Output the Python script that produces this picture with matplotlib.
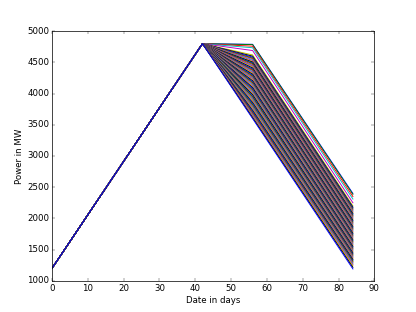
import matplotlib
matplotlib.use("Agg")
from matplotlib import pyplot as plt

plt.style.use("classic")

# days of the schedule
days = [0, 42, 56, 84]
start_power = 1200
peak_power = 4800

# power at day 56 for each scenario
power_56 = [4790, 4785, 4760, 4735, 4690, 4620, 4600, 4585, 4570, 4560,
            4545, 4530, 4515, 4505, 4490, 4480, 4465, 4450, 4440, 4425,
            4410, 4395, 4380, 4370, 4355, 4340, 4325, 4310, 4295, 4280,
            4265, 4250, 4235, 4220, 4205, 4190, 4175, 4160, 4145, 4125,
            4110, 4095, 4080, 4060, 4045, 4030, 4010, 3995, 3980, 3960,
            3945, 3925, 3910, 3890, 3875, 3855, 3840, 3820, 3800, 3785,
            3765, 3750, 3730, 3715, 3695, 3680, 3660, 3645, 3630, 3615, 3600]

# power at day 84 for each scenario
power_84 = [2400, 2385, 2350, 2310, 2250, 2200, 2180, 2165, 2150, 2135,
            2120, 2105, 2090, 2075, 2060, 2045, 2030, 2015, 2000, 1985,
            1970, 1955, 1940, 1925, 1910, 1895, 1880, 1865, 1850, 1835,
            1820, 1805, 1790, 1775, 1760, 1745, 1730, 1715, 1700, 1685,
            1670, 1655, 1640, 1625, 1610, 1595, 1580, 1565, 1550, 1535,
            1520, 1505, 1490, 1475, 1460, 1445, 1430, 1415, 1400, 1385,
            1370, 1355, 1340, 1325, 1310, 1295, 1280, 1260, 1240, 1215, 1190]

plt.figure(figsize=(8, 6), dpi=52)

for p56, p84 in zip(power_56, power_84):
    plt.plot(days, [start_power, peak_power, p56, p84], linewidth=1.3)

plt.xlabel("Date in days")
plt.ylabel("Power in MW")
plt.xlim(0, 90)
plt.ylim(1000, 5000)

plt.savefig("out.png", dpi=52)
